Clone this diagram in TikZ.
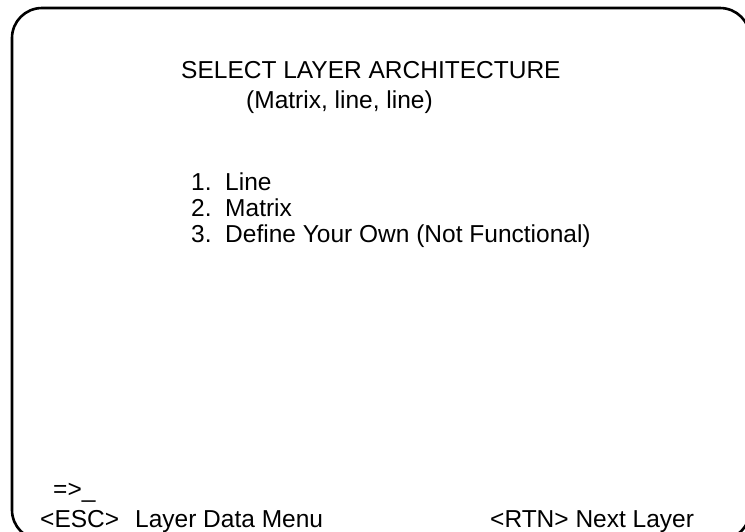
\documentclass[tikz,border=0pt]{standalone}
\usepackage{fontspec}
\setmainfont{Liberation Sans}
\usetikzlibrary{positioning}

\begin{document}
\begin{tikzpicture}[x=1pt, y=-1pt,
    screen/.style={line width=2.6pt, rounded corners=30pt},
    menutext/.style={anchor=base west, inner sep=0pt, font=\fontsize{24.5}{29}\selectfont}
]
\useasboundingbox (0,0) rectangle (745,531);
\begin{scope}
\clip (0,0) rectangle (745,531);
\draw[screen] (12,8) rectangle (750,540);
\end{scope}

\node[menutext] (title) at (181,78) {SELECT LAYER ARCHITECTURE};
\node[menutext] (current) at (246,108) {(Matrix, line, line)};

\node[menutext] (opt1) at (191,190) {1.\ \ Line};
\node[menutext] (opt2) at (191,216) {2.\ \ Matrix};
\node[menutext] (opt3) at (191,242) {3.\ \ Define Your Own (Not Functional)};

\node[menutext] (prompt) at (53,497) {=>\_};
\node[menutext] (esc) at (40,527) {<ESC>\hspace{16pt}Layer Data Menu};
\node[menutext] (rtn) at (490,527) {<RTN> Next Layer};
\end{tikzpicture}
\end{document}
